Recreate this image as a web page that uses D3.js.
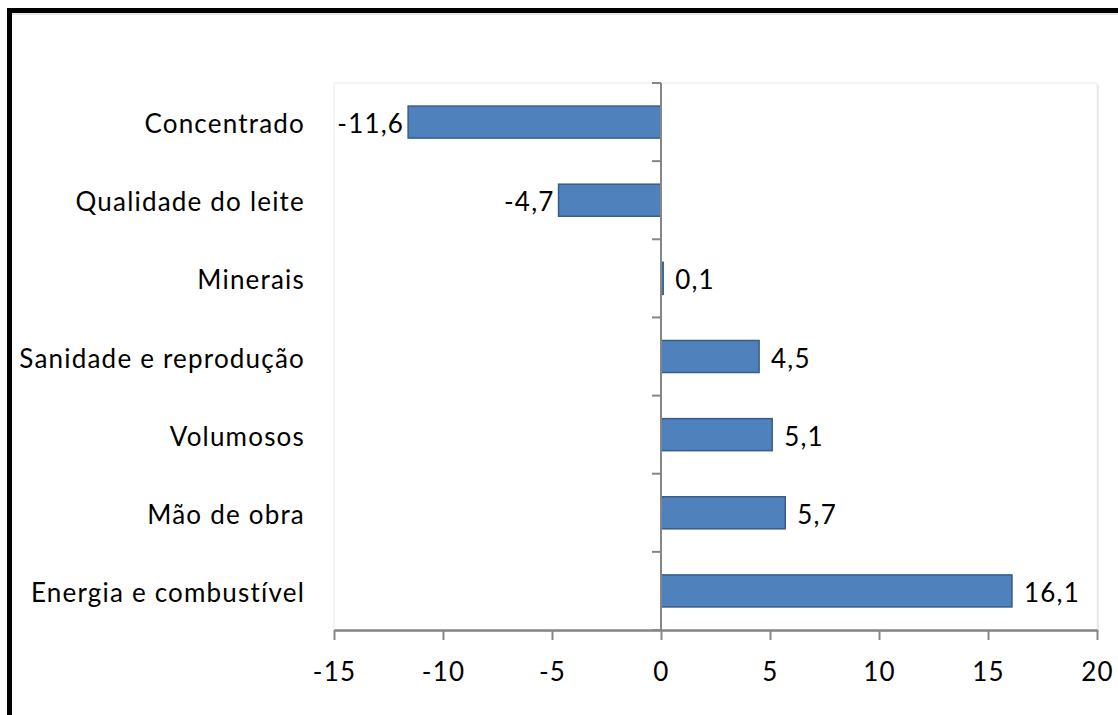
<!DOCTYPE html>
<html><head><meta charset="utf-8">
<script src="https://cdn.jsdelivr.net/npm/d3@7"></script>
<style>body{margin:0;background:#fff}svg{display:block}</style>
</head><body>
<svg id="c" width="1118" height="715"></svg>
<script>
const categories = ["Concentrado","Qualidade do leite","Minerais","Sanidade e reprodução","Volumosos","Mão de obra","Energia e combustível"];
const values = [-11.6,-4.7,0.1,4.5,5.1,5.7,16.1];
const xTicks = [-15,-10,-5,0,5,10,15,20];

const svg = d3.select("#c");
const font = "Lato, sans-serif";
const fs = 26, ls = 1.2;
const L = 334, R = 1097, T = 83, B = 630;
const x = d3.scaleLinear().domain([-15,20]).range([L,R]);
const y = d3.scaleBand().domain(categories).range([T,B]).paddingInner(0.59).paddingOuter(0.295);
const yb = d3.scaleBand().domain(categories).range([T,B]);

// frame
svg.append("line").attr("x1",7).attr("x2",1118).attr("y1",10.5).attr("y2",10.5).attr("stroke","#000").attr("stroke-width",5);
svg.append("line").attr("x1",9.5).attr("x2",9.5).attr("y1",8).attr("y2",715).attr("stroke","#000").attr("stroke-width",5);
svg.append("line").attr("x1",12).attr("x2",1118).attr("y1",14).attr("y2",14).attr("stroke","#ccc").attr("stroke-width",1);

// plot area with faint shadow
svg.append("rect").attr("x",L+2).attr("y",T+2).attr("width",R-L).attr("height",B-T).attr("fill","#e8e8e8");
svg.append("rect").attr("x",L).attr("y",T).attr("width",R-L).attr("height",B-T).attr("fill","#fff").attr("stroke","#ececec");

// bars
svg.append("g").selectAll("rect").data(values).join("rect")
  .attr("x",d=>x(Math.min(0,d))).attr("width",d=>Math.abs(x(d)-x(0)))
  .attr("y",(d,i)=>y(categories[i])).attr("height",y.bandwidth())
  .attr("fill","#4F81BD").attr("stroke","#385D8A").attr("stroke-width",1.5);

// x axis
const xa = svg.append("g").attr("transform",`translate(0,${B})`)
  .call(d3.axisBottom(x).tickValues(xTicks).tickSize(10).tickPadding(23).tickSizeOuter(0).tickFormat(d=>String(d)));
xa.select(".domain").attr("stroke","#868686").attr("stroke-width",2.5);
xa.selectAll(".tick line").attr("stroke","#868686").attr("stroke-width",2);
xa.selectAll("text").attr("font-family",font).attr("font-size",fs).attr("letter-spacing",ls).attr("fill","#000");

// y axis at zero
svg.append("line").attr("x1",x(0)).attr("x2",x(0)).attr("y1",T).attr("y2",B).attr("stroke","#868686").attr("stroke-width",2);
const bounds = categories.map(c=>yb(c)).concat([B]);
svg.append("g").selectAll("line").data(bounds).join("line")
  .attr("x1",x(0)-9).attr("x2",x(0)).attr("y1",d=>d).attr("y2",d=>d)
  .attr("stroke","#868686").attr("stroke-width",2);

// category labels
svg.append("g").selectAll("text").data(categories).join("text")
  .attr("x",305).attr("y",d=>yb(d)+yb.bandwidth()/2+2).attr("dy","0.35em")
  .attr("text-anchor","end").attr("font-family",font).attr("font-size",fs).attr("letter-spacing",ls).attr("fill","#000").text(d=>d);

// value labels
svg.append("g").selectAll("text").data(values).join("text")
  .attr("x",d=>d<0? x(d)-4 : x(d)+12)
  .attr("y",(d,i)=>yb(categories[i])+yb.bandwidth()/2+2).attr("dy","0.35em")
  .attr("text-anchor",d=>d<0?"end":"start")
  .attr("font-family",font).attr("font-size",fs).attr("letter-spacing",ls).attr("fill","#000")
  .text(d=>d3.format(".1f")(d).replace(".",",").replace("−","-"));
</script>
</body></html>
